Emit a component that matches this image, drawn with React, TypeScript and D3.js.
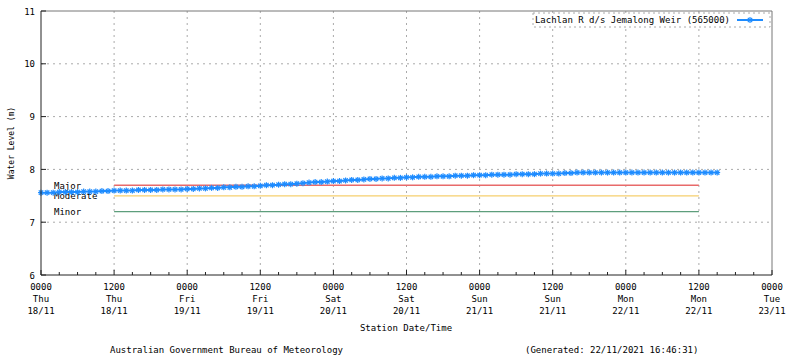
import React from "react";
import * as d3 from "d3";

// ---- data ----
const seriesName = "Lachlan R d/s Jemalong Weir (565000)";
// hourly water level (m) starting 0000 Thu 18/11
const levels: number[] = [
  7.56, 7.56, 7.56, 7.57, 7.57, 7.57, 7.57, 7.58, 7.58, 7.58, 7.59, 7.59,
  7.6, 7.6, 7.6, 7.6, 7.61, 7.61, 7.61, 7.61, 7.62, 7.62, 7.62, 7.62,
  7.63, 7.63, 7.64, 7.64, 7.65, 7.65, 7.66, 7.66, 7.67, 7.67, 7.68, 7.68,
  7.69, 7.7, 7.7, 7.71, 7.72, 7.72, 7.73, 7.74, 7.75, 7.76, 7.76, 7.77,
  7.78, 7.78, 7.79, 7.8, 7.8, 7.81, 7.82, 7.82, 7.83, 7.83, 7.84, 7.84,
  7.85, 7.85, 7.86, 7.86, 7.86, 7.87, 7.87, 7.87, 7.88, 7.88, 7.88, 7.89,
  7.89, 7.89, 7.9, 7.9, 7.9, 7.9, 7.91, 7.91, 7.91, 7.91, 7.92, 7.92,
  7.92, 7.92, 7.93, 7.93, 7.94, 7.94, 7.94, 7.94, 7.94, 7.94, 7.94, 7.94,
  7.94, 7.94, 7.94, 7.94, 7.94, 7.94, 7.94, 7.94, 7.94, 7.94, 7.94, 7.94,
  7.94, 7.94, 7.94, 7.94,
];
const tickTimes = ["0000", "1200", "0000", "1200", "0000", "1200", "0000", "1200", "0000", "1200", "0000"];
const tickDays = ["Thu", "Thu", "Fri", "Fri", "Sat", "Sat", "Sun", "Sun", "Mon", "Mon", "Tue"];
const tickDates = ["18/11", "18/11", "19/11", "19/11", "20/11", "20/11", "21/11", "21/11", "22/11", "22/11", "23/11"];
const yTicks = [6, 7, 8, 9, 10, 11];
const thresholdNames = ["Major", "Moderate", "Minor"];
const thresholdValues = [7.7, 7.5, 7.2];
const thresholdColors = ["#e86a6a", "#f6cf6e", "#5e9e7c"];
const thresholdStartHour = 12;
const thresholdEndHour = 108;

const FONT = "'DejaVu Sans Mono', 'Liberation Mono', monospace";

export default function App() {
  const W = 800, H = 358;
  const left = 41, right = 772, top = 11, bottom = 275;
  const x = d3.scaleLinear().domain([0, 120]).range([left, right]);
  const y = d3.scaleLinear().domain([6, 11]).range([bottom, top]);

  const pts = levels.map((v, i) => [x(i), y(v)] as [number, number]);
  const line = d3.line()(pts) || "";

  const majorHours = d3.range(0, 121, 12);
  const minorHours = d3.range(0, 121, 3).filter((h) => h % 12 !== 0);
  const blue = "#1e8cff";

  const marker = (cx: number, cy: number, k: number) => (
    <g key={k} stroke={blue} strokeWidth={1.2}>
      <line x1={cx - 3} y1={cy} x2={cx + 3} y2={cy} />
      <line x1={cx} y1={cy - 3} x2={cx} y2={cy + 3} />
      <line x1={cx - 2.2} y1={cy - 2.2} x2={cx + 2.2} y2={cy + 2.2} />
      <line x1={cx - 2.2} y1={cy + 2.2} x2={cx + 2.2} y2={cy - 2.2} />
    </g>
  );

  return (
    <svg width={W} height={H} style={{ position: "absolute", left: 0, top: 0, background: "#fff" }} fontFamily={FONT}>
      <rect x={0} y={0} width={W} height={H} fill="#fff" />
      {/* grid */}
      {majorHours.slice(1, -1).map((h) => (
        <line key={"gx" + h} x1={x(h)} x2={x(h)} y1={top} y2={bottom} stroke="#aaa" strokeDasharray="2,4" />
      ))}
      {yTicks.slice(1, -1).map((v) => (
        <line key={"gy" + v} x1={left} x2={right} y1={y(v)} y2={y(v)} stroke="#aaa" strokeDasharray="2,4" />
      ))}
      {/* thresholds */}
      {thresholdValues.map((v, i) => (
        <g key={"th" + i}>
          <line x1={x(thresholdStartHour)} x2={x(thresholdEndHour)} y1={y(v)} y2={y(v)} stroke={thresholdColors[i]} strokeWidth={1.3} />
          <text x={54} y={y(v) + 1} dominantBaseline="middle" fontSize={9} fill="#000">{thresholdNames[i]}</text>
        </g>
      ))}
      {/* series */}
      <path d={line} fill="none" stroke={blue} strokeWidth={2} />
      {pts.map((p, i) => marker(p[0], p[1], i))}
      {/* axes frame */}
      <line x1={left} x2={right} y1={top} y2={top} stroke="#777" />
      <line x1={right} x2={right} y1={top} y2={bottom} stroke="#777" />
      <line x1={left} x2={left} y1={top} y2={bottom} stroke="#222" />
      <line x1={left} x2={right} y1={bottom} y2={bottom} stroke="#222" />
      {/* x ticks */}
      {majorHours.map((h) => (
        <line key={"tx" + h} x1={x(h)} x2={x(h)} y1={bottom} y2={bottom - 5} stroke="#222" />
      ))}
      {minorHours.map((h) => (
        <line key={"mx" + h} x1={x(h)} x2={x(h)} y1={bottom} y2={bottom - 3} stroke="#222" />
      ))}
      {majorHours.map((h, i) => (
        <g key={"lx" + h} fontSize={9} textAnchor="middle" fill="#000">
          <text x={x(h)} y={287} dominantBaseline="middle">{tickTimes[i]}</text>
          <text x={x(h)} y={299} dominantBaseline="middle">{tickDays[i]}</text>
          <text x={x(h)} y={311} dominantBaseline="middle">{tickDates[i]}</text>
        </g>
      ))}
      {/* y ticks */}
      {yTicks.map((v) => (
        <g key={"ty" + v}>
          <line x1={left} x2={left + 5} y1={y(v)} y2={y(v)} stroke="#222" />
          <text x={35} y={y(v) + 1} textAnchor="end" dominantBaseline="middle" fontSize={9} fill="#000">{v}</text>
        </g>
      ))}
      {/* axis titles */}
      <text x={406} y={328} textAnchor="middle" dominantBaseline="middle" fontSize={9}>Station Date/Time</text>
      <text transform="translate(11,143) rotate(-90)" textAnchor="middle" dominantBaseline="middle" fontSize={8}>Water Level (m)</text>
      {/* legend */}
      <rect x={533} y={13} width={237} height={14} fill="#fff" stroke="#aaa" strokeDasharray="2,3" />
      <text x={730} y={20.5} textAnchor="end" dominantBaseline="middle" fontSize={9}>{seriesName}</text>
      <line x1={737} x2={763} y1={20} y2={20} stroke={blue} strokeWidth={2} />
      {marker(750, 20, -1)}
      {/* footer */}
      <text x={110} y={350} dominantBaseline="middle" fontSize={9}>Australian Government Bureau of Meteorology</text>
      <text x={525} y={350} dominantBaseline="middle" fontSize={9}>(Generated: 22/11/2021 16:46:31)</text>
    </svg>
  );
}
